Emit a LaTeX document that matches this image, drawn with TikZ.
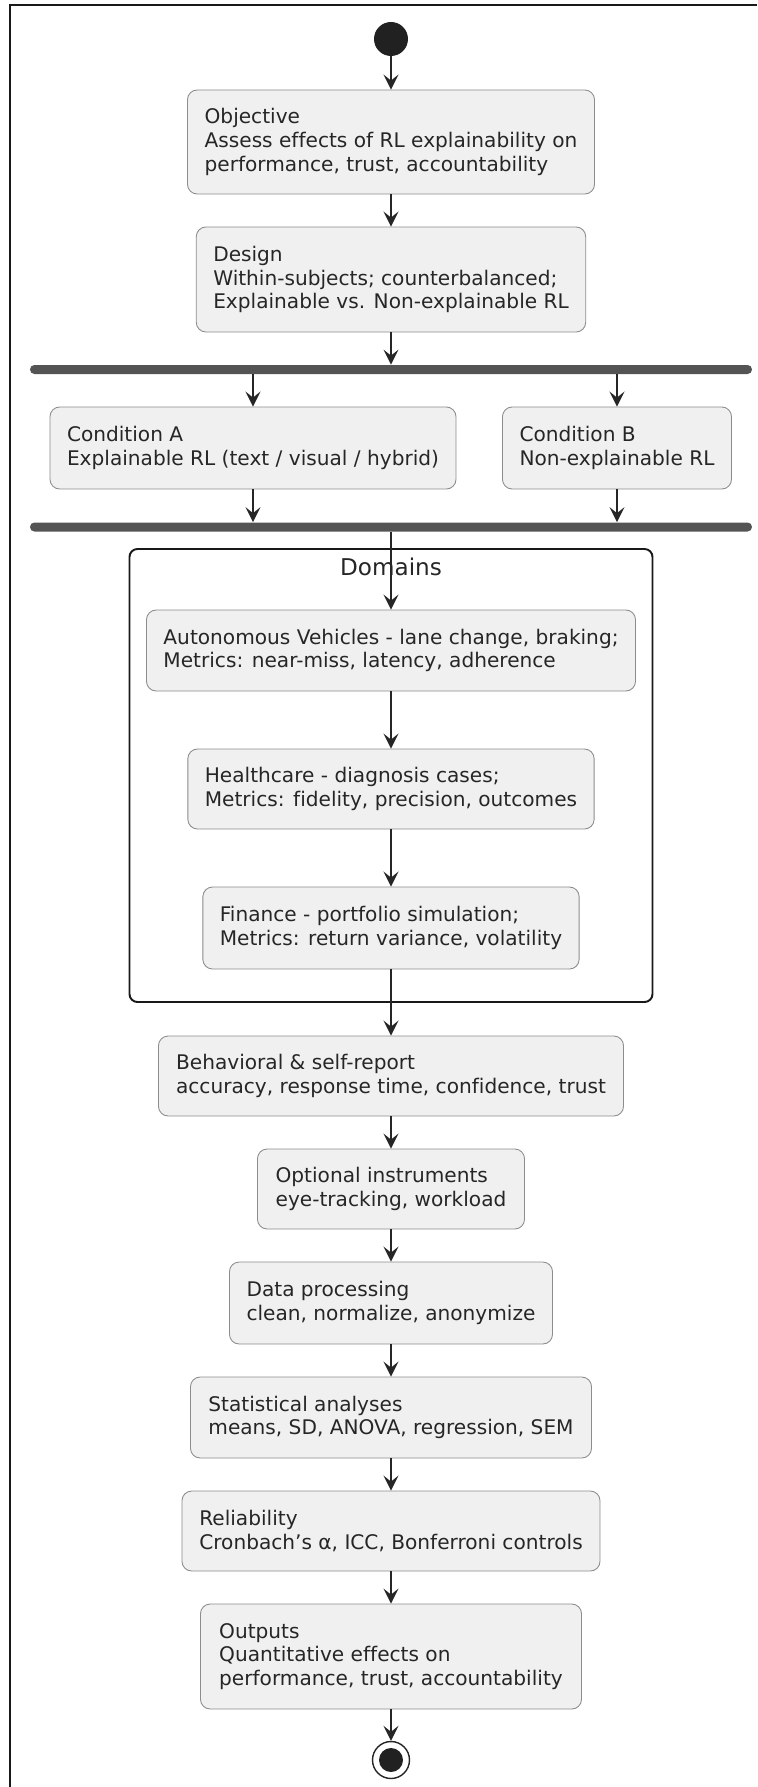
\documentclass[tikz,border=0pt]{standalone}
\usepackage{fontspec}
\setmainfont{DejaVu Sans}[Ligatures=CommonOff]
\usetikzlibrary{
  arrows.meta,
  positioning
}

\begin{document}
\begin{tikzpicture}[
  font=\fontsize{11.45}{13.43}\selectfont,
  actbox/.style={
    rectangle, rounded corners=5.5pt, draw=black!45, fill=black!6,
    line width=0.5pt, minimum height=1.6cm, inner xsep=0.34cm,
    align=left, text=black!85
  },
  forkbar/.style={
    rectangle, rounded corners=2.5pt, fill=black!67, draw=none,
    minimum width=14.44cm, minimum height=0.18cm, inner sep=0pt
  },
  partbox/.style={
    rectangle, rounded corners=4.5pt, draw=black!90, line width=1.1pt,
    minimum width=10.46cm, minimum height=9.06cm
  },
  arrow/.style={-{Stealth[length=0.3cm, width=0.3cm, inset=0.12cm]}, black!85, line width=0.8pt},
]

\useasboundingbox (-7.82,0) rectangle (7.32,-35.74);

% Outer frame
\draw[line width=1.1pt, black!90] (-7.62,-35.74) -- (-7.62,-0.106) -- (7.32,-0.106);

% Start
\node[circle, fill=black!87, minimum size=0.68cm, inner sep=0pt] (start) at (0, -0.78) {};

% Objective and design
\node[actbox, minimum width=8.14cm, minimum height=2.08cm] (obj) at (0, -2.84)
  {Objective\\Assess effects of RL explainability on\\performance, trust, accountability};
\node[actbox, minimum width=7.78cm, minimum height=2.10cm] (design) at (0, -5.59)
  {Design\\Within-subjects; counterbalanced;\\Explainable vs. Non-explainable RL};

% Fork
\node[forkbar] (forkA) at (0, -7.39) {};
\node[actbox, minimum width=8.12cm, minimum height=1.64cm] (condA) at (-2.76, -8.96)
  {Condition A\\Explainable RL (text / visual / hybrid)};
\node[actbox, minimum width=4.56cm, minimum height=1.64cm] (condB) at (4.52, -8.96)
  {Condition B\\Non-explainable RL};
\node[forkbar] (forkB) at (0, -10.54) {};

% Domains partition
\node[partbox] (domains) at (0, -15.51) {};
\node[font=\fontsize{13.15}{15.7}\selectfont, text=black!85] (domlabel) at (0, -11.34) {Domains};
\node[actbox, minimum width=9.76cm, minimum height=1.62cm] (av) at (0, -13.01)
  {Autonomous Vehicles - lane change, braking;\\Metrics: near-miss, latency, adherence};
\node[actbox, minimum width=8.08cm, minimum height=1.60cm] (health) at (0, -15.78)
  {Healthcare - diagnosis cases;\\Metrics: fidelity, precision, outcomes};
\node[actbox, minimum width=7.50cm, minimum height=1.64cm] (fin) at (0, -18.56)
  {Finance - portfolio simulation;\\Metrics: return variance, volatility};

% Measures and analysis
\node[actbox, minimum width=9.30cm] (behav) at (0, -21.52)
  {Behavioral \& self-report\\accuracy, response time, confidence, trust};
\node[actbox, minimum width=5.34cm] (instr) at (0, -23.78)
  {Optional instruments\\eye-tracking, workload};
\node[actbox, minimum width=6.46cm, minimum height=1.64cm] (proc) at (0, -26.06)
  {Data processing\\clean, normalize, anonymize};
\node[actbox, minimum width=8.02cm, minimum height=1.62cm] (stats) at (0, -28.35)
  {Statistical analyses\\means, SD, ANOVA, regression, SEM};
\node[actbox, minimum width=8.36cm] (rel) at (0, -30.62)
  {Reliability\\Cronbach’s α, ICC, Bonferroni controls};
\node[actbox, minimum width=7.62cm, minimum height=2.10cm] (outp) at (0, -33.13)
  {Outputs\\Quantitative effects on\\performance, trust, accountability};

% Stop
\node[circle, draw=black!85, line width=0.8pt, fill=white, minimum size=0.74cm, inner sep=0pt] (stop) at (0, -35.2) {};
\node[circle, fill=black!87, minimum size=0.48cm, inner sep=0pt] (stopdot) at (stop) {};

% Flows
\draw[arrow] (start.south) -- (obj.north);
\draw[arrow] (obj.south) -- (design.north);
\draw[arrow] (design.south) -- (forkA.north);
\draw[arrow] (condA.north |- forkA.south) -- (condA.north);
\draw[arrow] (condB.north |- forkA.south) -- (condB.north);
\draw[arrow] (condA.south) -- (condA.south |- forkB.north);
\draw[arrow] (condB.south) -- (condB.south |- forkB.north);
\draw[arrow] (forkB.south) -- (av.north);
\draw[arrow] (av.south) -- (health.north);
\draw[arrow] (health.south) -- (fin.north);
\draw[arrow] (fin.south) -- (behav.north);
\draw[arrow] (behav.south) -- (instr.north);
\draw[arrow] (instr.south) -- (proc.north);
\draw[arrow] (proc.south) -- (stats.north);
\draw[arrow] (stats.south) -- (rel.north);
\draw[arrow] (rel.south) -- (outp.north);
\draw[arrow] (outp.south) -- (stop.north);

\end{tikzpicture}
\end{document}
